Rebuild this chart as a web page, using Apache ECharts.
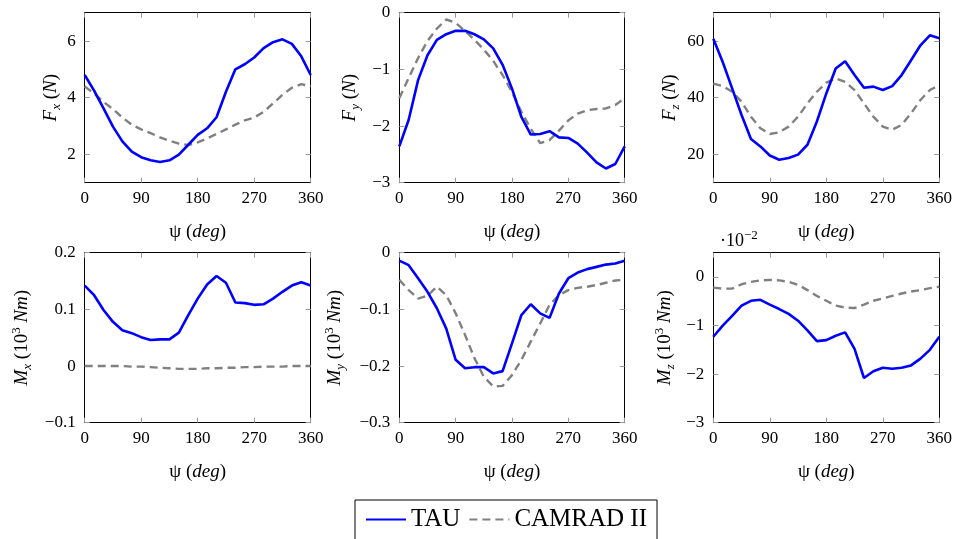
<!DOCTYPE html>
<html>
<head>
<meta charset="utf-8">
<script src="https://cdn.jsdelivr.net/npm/echarts@6/dist/echarts.min.js"></script>
<style>
html,body{margin:0;padding:0;background:#fff;}
#chart{width:957px;height:539px;}
</style>
</head>
<body>
<div id="chart"></div>
<script>
const psi = [0,15,30,45,60,75,90,105,120,135,150,165,180,195,210,225,240,255,270,285,300,315,330,345,360];

const fxTau = [4.8,4.25,3.62,2.98,2.46,2.1,1.9,1.79,1.73,1.79,1.99,2.34,2.69,2.92,3.31,4.21,5.0,5.18,5.42,5.75,5.96,6.06,5.9,5.46,4.8];
const fxCam = [4.4,4.15,3.85,3.6,3.3,3.05,2.88,2.75,2.6,2.48,2.38,2.33,2.42,2.56,2.72,2.88,3.05,3.2,3.3,3.5,3.8,4.1,4.35,4.48,4.4];

const fyTau = [-2.36,-1.89,-1.19,-0.75,-0.48,-0.38,-0.32,-0.32,-0.38,-0.47,-0.63,-0.92,-1.34,-1.84,-2.15,-2.14,-2.09,-2.2,-2.21,-2.31,-2.47,-2.64,-2.75,-2.67,-2.36];
const fyCam = [-1.51,-1.15,-0.8,-0.5,-0.28,-0.12,-0.18,-0.32,-0.48,-0.65,-0.85,-1.1,-1.4,-1.75,-2.05,-2.3,-2.25,-2.08,-1.9,-1.78,-1.72,-1.7,-1.69,-1.63,-1.51];

const fzTau = [60.8,52.6,43.3,33.9,25.4,22.8,19.6,18.1,18.7,19.9,23.4,31.6,41.5,50.3,52.9,48,43.5,43.9,42.7,44.1,48,53.2,58.5,62,61];
const fzCam = [45,44.1,42.1,38.6,33.3,29.2,27.2,27.8,29.8,33.3,38,42.1,45.3,46.8,45.6,42.7,38,33.3,29.8,28.7,30.4,34.5,39.2,42.7,44.4];

const mxTau = [0.142,0.125,0.099,0.078,0.063,0.058,0.051,0.046,0.047,0.047,0.059,0.09,0.119,0.144,0.159,0.147,0.112,0.111,0.108,0.109,0.119,0.131,0.142,0.148,0.142];
const mxCam = [0,0,0,0,0,-0.001,-0.001,-0.002,-0.003,-0.004,-0.005,-0.005,-0.005,-0.004,-0.004,-0.003,-0.003,-0.002,-0.002,-0.001,-0.001,-0.001,0,0,0];

const myTau = [-0.014,-0.022,-0.045,-0.069,-0.098,-0.134,-0.189,-0.204,-0.202,-0.202,-0.213,-0.209,-0.16,-0.11,-0.091,-0.107,-0.115,-0.072,-0.045,-0.035,-0.029,-0.025,-0.021,-0.019,-0.014];
const myCam = [-0.048,-0.066,-0.081,-0.076,-0.06,-0.075,-0.107,-0.145,-0.186,-0.219,-0.236,-0.235,-0.216,-0.189,-0.157,-0.125,-0.092,-0.075,-0.066,-0.062,-0.06,-0.057,-0.053,-0.049,-0.048];

// Mz values in units of 10^-2 (10^3 Nm)
const mzTau = [-1.23,-1.0,-0.8,-0.59,-0.49,-0.47,-0.57,-0.66,-0.76,-0.9,-1.1,-1.32,-1.3,-1.21,-1.14,-1.48,-2.08,-1.94,-1.87,-1.89,-1.87,-1.82,-1.68,-1.5,-1.23];
const mzCam = [-0.22,-0.24,-0.24,-0.15,-0.1,-0.07,-0.06,-0.07,-0.1,-0.16,-0.27,-0.39,-0.49,-0.59,-0.63,-0.64,-0.57,-0.49,-0.44,-0.39,-0.34,-0.3,-0.27,-0.23,-0.2];

const xTicks = [0,90,180,270,360];
const fxTicks = [2,4,6];
const fyTicks = [-3,-2,-1,0];
const fzTicks = [20,40,60];
const mxTicks = [-0.1,0,0.1,0.2];
const myTicks = [-0.3,-0.2,-0.1,0];
const mzTicks = [-3,-2,-1,0];

const FONT = '"Liberation Serif", "DejaVu Serif", serif';
const richBase = {
  n: {fontFamily: FONT, fontSize: 19, color: '#000'},
  i: {fontFamily: FONT, fontSize: 19, fontStyle: 'italic', color: '#000'},
  sub: {fontFamily: FONT, fontSize: 13, fontStyle: 'italic', color: '#000', padding: [11,0,0,0]},
  sup: {fontFamily: FONT, fontSize: 13, color: '#000', padding: [0,0,11,0]}
};

const panels = [
  {tau: fxTau, cam: fxCam, min: 1, max: 7, ticks: fxTicks, name: '{i|F}{sub|x}{n| (}{i|N}{n|)}', gap: 21, left: 84.7, top: 12.7, width: 226},
  {tau: fyTau, cam: fyCam, min: -3, max: 0, ticks: fyTicks, name: '{i|F}{sub|y}{n| (}{i|N}{n|)}', gap: 37, left: 399.3, top: 12.7, width: 225.4},
  {tau: fzTau, cam: fzCam, min: 10, max: 70, ticks: fzTicks, name: '{i|F}{sub|z}{n| (}{i|N}{n|)}', gap: 31, left: 713.3, top: 12.7, width: 226},
  {tau: mxTau, cam: mxCam, min: -0.1, max: 0.2, ticks: mxTicks, name: '{i|M}{sub|x}{n| (10}{sup|3}{n| }{i|Nm}{n|)}', gap: 51, left: 84.7, top: 252.7, width: 226},
  {tau: myTau, cam: myCam, min: -0.3, max: 0, ticks: myTicks, name: '{i|M}{sub|y}{n| (10}{sup|3}{n| }{i|Nm}{n|)}', gap: 52, left: 399.3, top: 252.7, width: 225.4},
  {tau: mzTau, cam: mzCam, min: -3, max: 0.5, ticks: mzTicks, name: '{i|M}{sub|z}{n| (10}{sup|3}{n| }{i|Nm}{n|)}', gap: 36, left: 713.3, top: 252.7, width: 226}
];

function fmt(v) {
  const r = Math.round(v * 1000) / 1000;
  if (r === 0) return '0';
  const s = String(Math.abs(r));
  return r < 0 ? '\u2212' + s : s;
}

const lineAxis = {show: true, onZero: false, lineStyle: {color: '#000', width: 1}};
const tickStyle = {color: '#9a9a9a', width: 1};

const grid = [], xAxis = [], yAxis = [], series = [];
panels.forEach((p, i) => {
  grid.push({left: p.left, top: p.top, width: p.width, height: 170, containLabel: false});
  const tau = psi.map((x, k) => [x, p.tau[k]]);
  const cam = psi.map((x, k) => [x, p.cam[k]]);
  xAxis.push({
    gridIndex: i, type: 'value', position: 'bottom', min: 0, max: 360,
    axisLine: lineAxis,
    axisTick: {show: true, inside: true, length: 5, customValues: xTicks, lineStyle: tickStyle},
    axisLabel: {show: true, customValues: xTicks, fontFamily: FONT, fontSize: 17, color: '#000', margin: 7, formatter: fmt},
    splitLine: {show: false},
    name: '{n|\u03c8 (}{i|deg}{n|)}', nameLocation: 'middle', nameGap: 40,
    nameTextStyle: {rich: richBase}
  });
  xAxis.push({
    gridIndex: i, type: 'value', position: 'top', min: 0, max: 360,
    axisLine: lineAxis,
    axisTick: {show: true, inside: true, length: 5, customValues: xTicks, lineStyle: tickStyle},
    axisLabel: {show: false},
    splitLine: {show: false}
  });
  yAxis.push({
    gridIndex: i, type: 'value', position: 'left', min: p.min, max: p.max,
    axisLine: lineAxis,
    axisTick: {show: true, inside: true, length: 5, customValues: p.ticks, lineStyle: tickStyle},
    axisLabel: {show: true, customValues: p.ticks, fontFamily: FONT, fontSize: 17, color: '#000', margin: 9, formatter: fmt},
    splitLine: {show: false},
    name: p.name, nameLocation: 'middle', nameGap: p.gap, nameRotate: 90,
    nameTextStyle: {rich: richBase}
  });
  yAxis.push({
    gridIndex: i, type: 'value', position: 'right', min: p.min, max: p.max,
    axisLine: lineAxis,
    axisTick: {show: true, inside: true, length: 5, customValues: p.ticks, lineStyle: tickStyle},
    axisLabel: {show: false},
    splitLine: {show: false}
  });
  series.push({
    name: 'TAU', type: 'line', xAxisIndex: 2 * i, yAxisIndex: 2 * i, data: tau,
    symbol: 'none', smooth: false, lineStyle: {color: '#0000ff', width: 2.6}, itemStyle: {color: '#0000ff'},
    z: 3, animation: false
  });
  series.push({
    name: 'CAMRAD II', type: 'line', xAxisIndex: 2 * i, yAxisIndex: 2 * i, data: cam,
    symbol: 'none', smooth: false, lineStyle: {color: '#808080', width: 2.4, type: [8, 5]}, itemStyle: {color: '#808080'},
    z: 2, animation: false
  });
});

const chart = echarts.init(document.getElementById('chart'), null, {renderer: 'canvas'});
chart.setOption({
  animation: false,
  backgroundColor: '#fff',
  grid, xAxis, yAxis, series,
  legend: {
    data: ['TAU', 'CAMRAD II'],
    left: 355, top: 500,
    orient: 'horizontal',
    itemWidth: 40, itemHeight: 14, itemGap: 8,
    padding: [7, 10, 30, 10],
    borderColor: '#000', borderWidth: 1, borderRadius: 0,
    backgroundColor: '#fff',
    selectedMode: false,
    itemStyle: {opacity: 0},
    textStyle: {fontFamily: FONT, fontSize: 25, color: '#000'}
  },
  graphic: [{
    type: 'text', left: 720, top: 229,
    style: {
      text: '{n|\u00b710}{s|\u22122}',
      rich: {
        n: {fontFamily: FONT, fontSize: 18, color: '#000'},
        s: {fontFamily: FONT, fontSize: 13, color: '#000', padding: [0, 0, 11, 0]}
      }
    }
  }]
});
</script>
</body>
</html>
